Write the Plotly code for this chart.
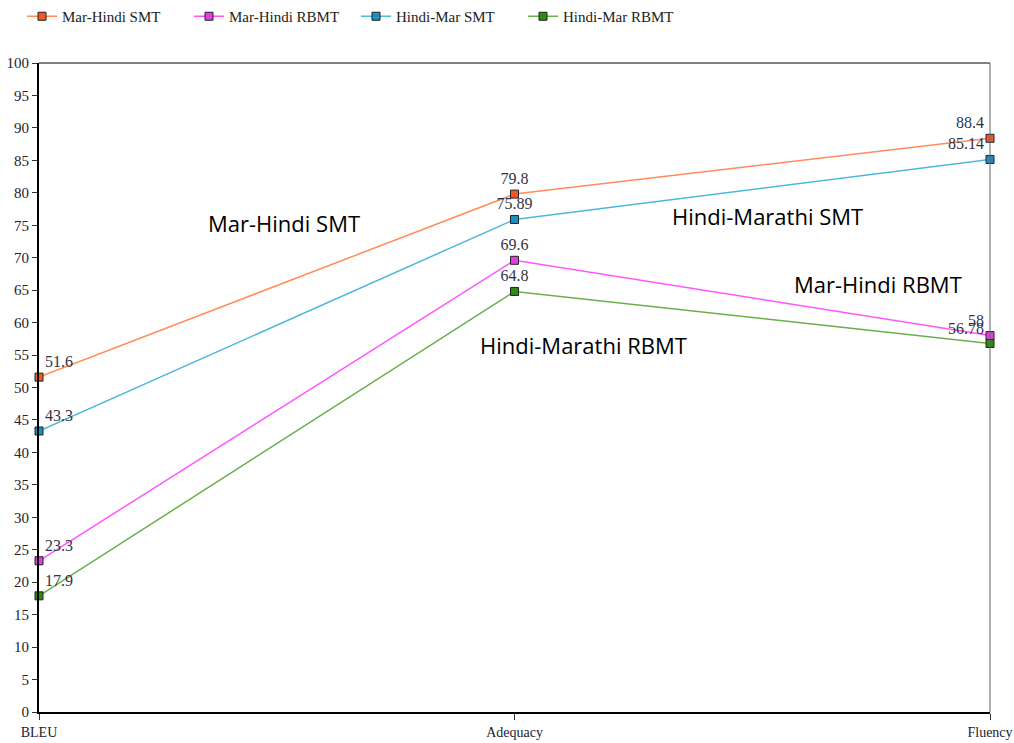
import plotly.graph_objects as go

categories = ["BLEU", "Adequacy", "Fluency"]
mar_hindi_smt = [51.6, 79.8, 88.4]
mar_hindi_rbmt = [23.3, 69.6, 58]
hindi_mar_smt = [43.3, 75.89, 85.14]
hindi_mar_rbmt = [17.9, 64.8, 56.78]

series = [
    ("Mar-Hindi SMT", mar_hindi_smt, "#FF8C5A", "#F05A28"),
    ("Mar-Hindi RBMT", mar_hindi_rbmt, "#FF55FF", "#E040E0"),
    ("Hindi-Mar SMT", hindi_mar_smt, "#4DB8DC", "#1A8FC0"),
    ("Hindi-Mar RBMT", hindi_mar_rbmt, "#6AB04A", "#2E8B10"),
]

text_pos = ["top right", "top center", "top left"]

fig = go.Figure()
for name, vals, lc, mc in series:
    fig.add_trace(go.Scatter(
        x=categories, y=vals, name=name, mode="lines+markers+text",
        line=dict(color=lc, width=1.5),
        marker=dict(symbol="square", size=8, color=mc, line=dict(color="#222", width=1)),
        text=[str(v) for v in vals], textposition=text_pos,
        textfont=dict(family="Liberation Serif", size=16, color="#333344"),
        cliponaxis=False,
    ))

afont = dict(family="Open Sans", size=22, color="black")
fig.add_annotation(x=0.515, y=75.3, text="Mar-Hindi SMT", showarrow=False, font=afont)
fig.add_annotation(x=1.533, y=76.4, text="Hindi-Marathi SMT", showarrow=False, font=afont)
fig.add_annotation(x=1.765, y=66.0, text="Mar-Hindi RBMT", showarrow=False, font=afont)
fig.add_annotation(x=1.146, y=56.6, text="Hindi-Marathi RBMT", showarrow=False, font=afont)

tickfont = dict(family="Liberation Serif", size=15, color="#222233")
fig.update_layout(
    width=1014, height=743,
    margin=dict(l=39, r=24, t=63, b=31, autoexpand=False),
    paper_bgcolor="white", plot_bgcolor="white",
    font=dict(family="Liberation Serif", size=15, color="#222233"),
    showlegend=True,
    legend=dict(orientation="h", x=0.0217, xref="container", y=1.0, yref="container",
                yanchor="top", xanchor="left", entrywidth=122,
                font=dict(family="Liberation Serif", size=15, color="#222"),
                tracegroupgap=0),
    xaxis=dict(type="category", range=[0, 2], showgrid=False, zeroline=False, automargin=False,
               showline=True, linecolor="black", linewidth=2,
               ticks="outside", ticklen=6, tickcolor="#333",
               tickfont=dict(family="Liberation Serif", size=14, color="#222233")),
    yaxis=dict(range=[0, 100], dtick=5, showgrid=False, zeroline=False, automargin=False,
               showline=True, linecolor="black", linewidth=2,
               ticks="outside", ticklen=5, tickcolor="#333", tickfont=tickfont),
)
fig.add_shape(type="line", xref="paper", yref="paper", x0=0, x1=1, y0=1, y1=1,
              line=dict(color="black", width=1))
fig.add_shape(type="line", xref="paper", yref="paper", x0=1, x1=1, y0=0, y1=1,
              line=dict(color="#666", width=1))

fig.write_html("out.html", config={"displayModeBar": False},
               post_script="document.body.style.margin='0';document.body.style.overflow='hidden';")
